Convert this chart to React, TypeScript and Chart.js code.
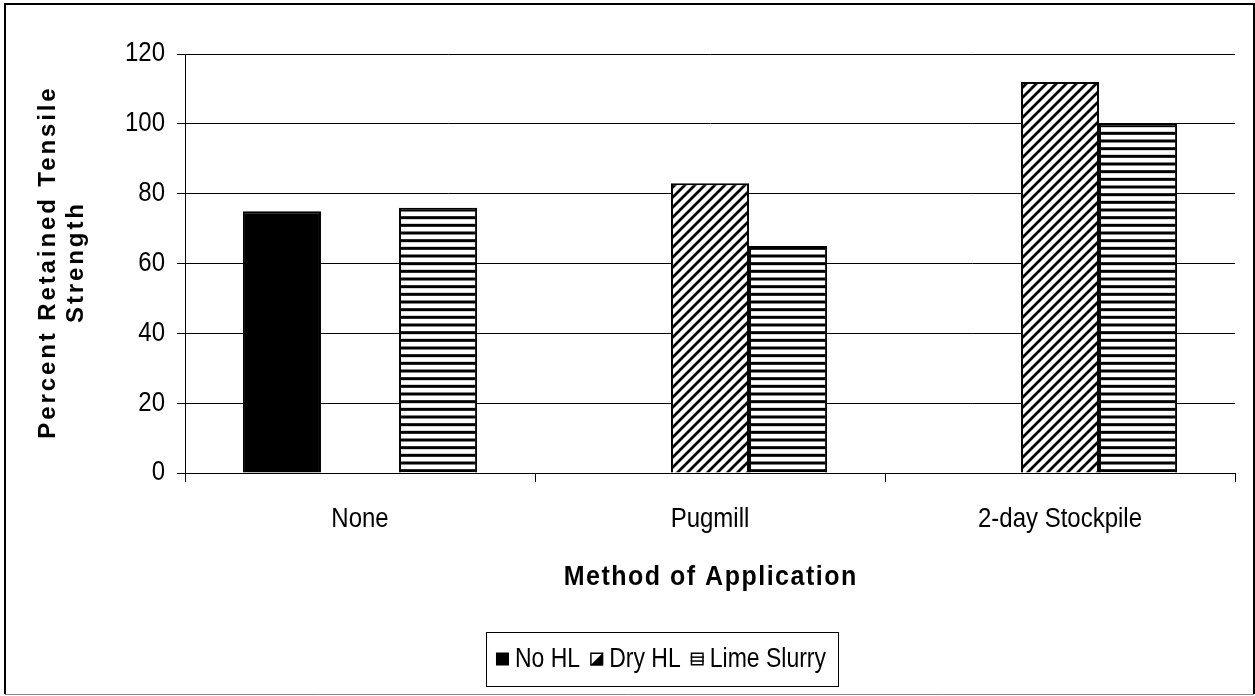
import React, { useEffect, useRef } from "react";
import { Chart, registerables } from "chart.js";
Chart.register(...registerables);

const categories = ["None", "Pugmill", "2-day Stockpile"];
const seriesNames = ["No HL", "Dry HL", "Lime Slurry"];
const noHL = [75, null, null];
const dryHL = [null, 83, 112];
const limeSlurry = [76, 65, 100];
const yTicks = [0, 20, 40, 60, 80, 100, 120];
const xTitle = "Method of Application";
const yTitle = ["Percent Retained Tensile", "Strength"];

const FONT = "'Liberation Sans', Arial, sans-serif";
const SY = 1.12;

function diagPattern(ctx: CanvasRenderingContext2D) {
  const c = document.createElement("canvas");
  c.width = 10;
  c.height = 10;
  const g = c.getContext("2d")!;
  g.fillStyle = "#fff";
  g.fillRect(0, 0, 10, 10);
  g.strokeStyle = "#000";
  g.lineWidth = 2.8;
  g.beginPath();
  g.moveTo(-2, 12);
  g.lineTo(12, -2);
  g.moveTo(-2, 2);
  g.lineTo(2, -2);
  g.moveTo(8, 12);
  g.lineTo(12, 8);
  g.stroke();
  return ctx.createPattern(c, "repeat")!;
}

function horizPattern(ctx: CanvasRenderingContext2D) {
  const c = document.createElement("canvas");
  c.width = 8;
  c.height = 23;
  const g = c.getContext("2d")!;
  g.fillStyle = "#fff";
  g.fillRect(0, 0, 8, 23);
  g.fillStyle = "#000";
  for (let i = 0; i < 3; i++) {
    g.fillRect(0, 1.5 + i * (23 / 3), 8, 3);
  }
  return ctx.createPattern(c, "repeat")!;
}

type TextOpts = {
  size: number;
  bold?: boolean;
  sy?: number;
  align?: CanvasTextAlign;
  spacing?: number;
  rotate?: boolean;
};

function drawText(g: CanvasRenderingContext2D, text: string, x: number, y: number, o: TextOpts) {
  g.save();
  g.translate(x, y);
  if (o.rotate) g.rotate(-Math.PI / 2);
  g.scale(1, o.sy ?? SY);
  g.font = `${o.bold ? "bold " : ""}${o.size}px ${FONT}`;
  (g as any).letterSpacing = `${o.spacing ?? 0}px`;
  g.textAlign = o.align ?? "center";
  g.textBaseline = "middle";
  g.fillStyle = "#000";
  let dx = 0;
  if ((o.align ?? "center") === "center" && o.spacing) dx = o.spacing / 2;
  g.fillText(text, dx, 0);
  g.restore();
}

export default function App() {
  const ref = useRef<HTMLCanvasElement>(null);
  useEffect(() => {
    const canvas = ref.current!;
    const ctx = canvas.getContext("2d")!;
    const pDiag = diagPattern(ctx);
    const pHoriz = horizPattern(ctx);

    const drawMarker = (g: CanvasRenderingContext2D, i: number, x: number, y: number, s: number) => {
      g.save();
      g.lineWidth = 1.5;
      g.strokeStyle = "#000";
      if (i === 0) {
        g.fillStyle = "#000";
        g.fillRect(x, y, s, s);
      } else if (i === 1) {
        g.fillStyle = "#fff";
        g.fillRect(x, y, s, s);
        g.fillStyle = "#000";
        g.beginPath();
        g.moveTo(x + s, y);
        g.lineTo(x + s, y + s);
        g.lineTo(x, y + s);
        g.closePath();
        g.fill();
        g.strokeRect(x + 0.75, y + 0.75, s - 1.5, s - 1.5);
      } else {
        g.fillStyle = "#fff";
        g.fillRect(x, y, s, s);
        g.fillStyle = "#000";
        g.fillRect(x, y + s * 0.3, s, 1.5);
        g.fillRect(x, y + s * 0.6, s, 1.5);
        g.strokeRect(x + 0.75, y + 0.75, s - 1.5, s - 1.5);
      }
      g.restore();
    };

    const decor = {
      id: "decor",
      afterDraw(chart: any) {
        const g: CanvasRenderingContext2D = chart.ctx;
        const a = chart.chartArea;
        const xs = chart.scales.x;
        const ys = chart.scales.y;
        g.save();
        // outer frame
        g.strokeStyle = "#000";
        g.lineWidth = 2;
        g.beginPath();
        g.moveTo(5, 694);
        g.lineTo(5, 4);
        g.lineTo(1254, 4);
        g.lineTo(1254, 694);
        g.stroke();
        g.strokeStyle = "#888";
        g.lineWidth = 1;
        g.beginPath();
        g.moveTo(5, 694.5);
        g.lineTo(1254, 694.5);
        g.stroke();

        // y tick labels
        yTicks.forEach((v) => {
          drawText(g, String(v), 165, ys.getPixelForValue(v), { size: 24, align: "right" });
        });
        // x tick labels
        categories.forEach((c, i) => {
          drawText(g, c, xs.getPixelForValue(i), 520, { size: 24 });
        });

        // x title
        drawText(g, xTitle, (a.left + a.right) / 2, 577, { size: 25, bold: true, spacing: 1.5 });

        // y title
        const cy = (a.top + a.bottom) / 2;
        drawText(g, yTitle[0], 48, cy, { size: 24, bold: true, spacing: 2.9, rotate: true, sy: 1 });
        drawText(g, yTitle[1], 76, cy, { size: 24, bold: true, spacing: 2.9, rotate: true, sy: 1 });

        // legend
        const fs = 23;
        g.font = `${fs}px ${FONT}`;
        const ms = 13;
        const gap = 6;
        const itemGap = 10;
        const widths = seriesNames.map((n) => ms + gap + g.measureText(n).width);
        const total = widths.reduce((s, w) => s + w, 0) + itemGap * (seriesNames.length - 1);
        const cx = 661;
        const ly = 659;
        let x = cx - total / 2;
        g.strokeStyle = "#000";
        g.lineWidth = 1;
        g.strokeRect(Math.round(x - 10) + 0.5, 632.5, Math.round(total + 22), 54);
        seriesNames.forEach((n, i) => {
          drawMarker(g, i, x, ly - ms / 2, ms);
          drawText(g, n, x + ms + gap, ly + 1, { size: fs, align: "left", sy: 1.18 });
          x += widths[i] + itemGap;
        });
        g.restore();
      },
    };

    const chart = new Chart(canvas, {
      type: "bar",
      data: {
        labels: categories,
        datasets: [
          { label: seriesNames[0], data: noHL, backgroundColor: "#000", borderColor: "#000", borderWidth: 2 },
          { label: seriesNames[1], data: dryHL, backgroundColor: pDiag, borderColor: "#000", borderWidth: 2 },
          { label: seriesNames[2], data: limeSlurry, backgroundColor: pHoriz, borderColor: "#000", borderWidth: 2 },
        ] as any,
      },
      options: {
        animation: false,
        responsive: false,
        maintainAspectRatio: false,
        datasets: { bar: { barPercentage: 1, categoryPercentage: 0.669 } },
        layout: { padding: { top: 54, right: 20, left: 0, bottom: 0 } },
        plugins: { legend: { display: false }, tooltip: { enabled: false }, title: { display: false } },
        scales: {
          x: {
            grid: { drawOnChartArea: false, drawTicks: true, tickLength: 9, color: "#000", offset: true },
            border: { color: "#000", width: 1 },
            ticks: { display: false },
            afterFit: (s: any) => {
              s.height = 223;
            },
          },
          y: {
            min: 0,
            max: 120,
            ticks: { display: false },
            afterBuildTicks: (s: any) => {
              s.ticks = yTicks.map((v) => ({ value: v }));
            },
            grid: { color: "#000", tickLength: 8 },
            border: { color: "#000", width: 1 },
            afterFit: (s: any) => {
              s.width = 185;
            },
          },
        },
      } as any,
      plugins: [decor],
    });
    return () => chart.destroy();
  }, []);

  return (
    <div style={{ position: "fixed", left: 0, top: 0, width: 1255, height: 696, background: "#fff" }}>
      <canvas ref={ref} width={1255} height={696} style={{ display: "block" }} />
    </div>
  );
}
